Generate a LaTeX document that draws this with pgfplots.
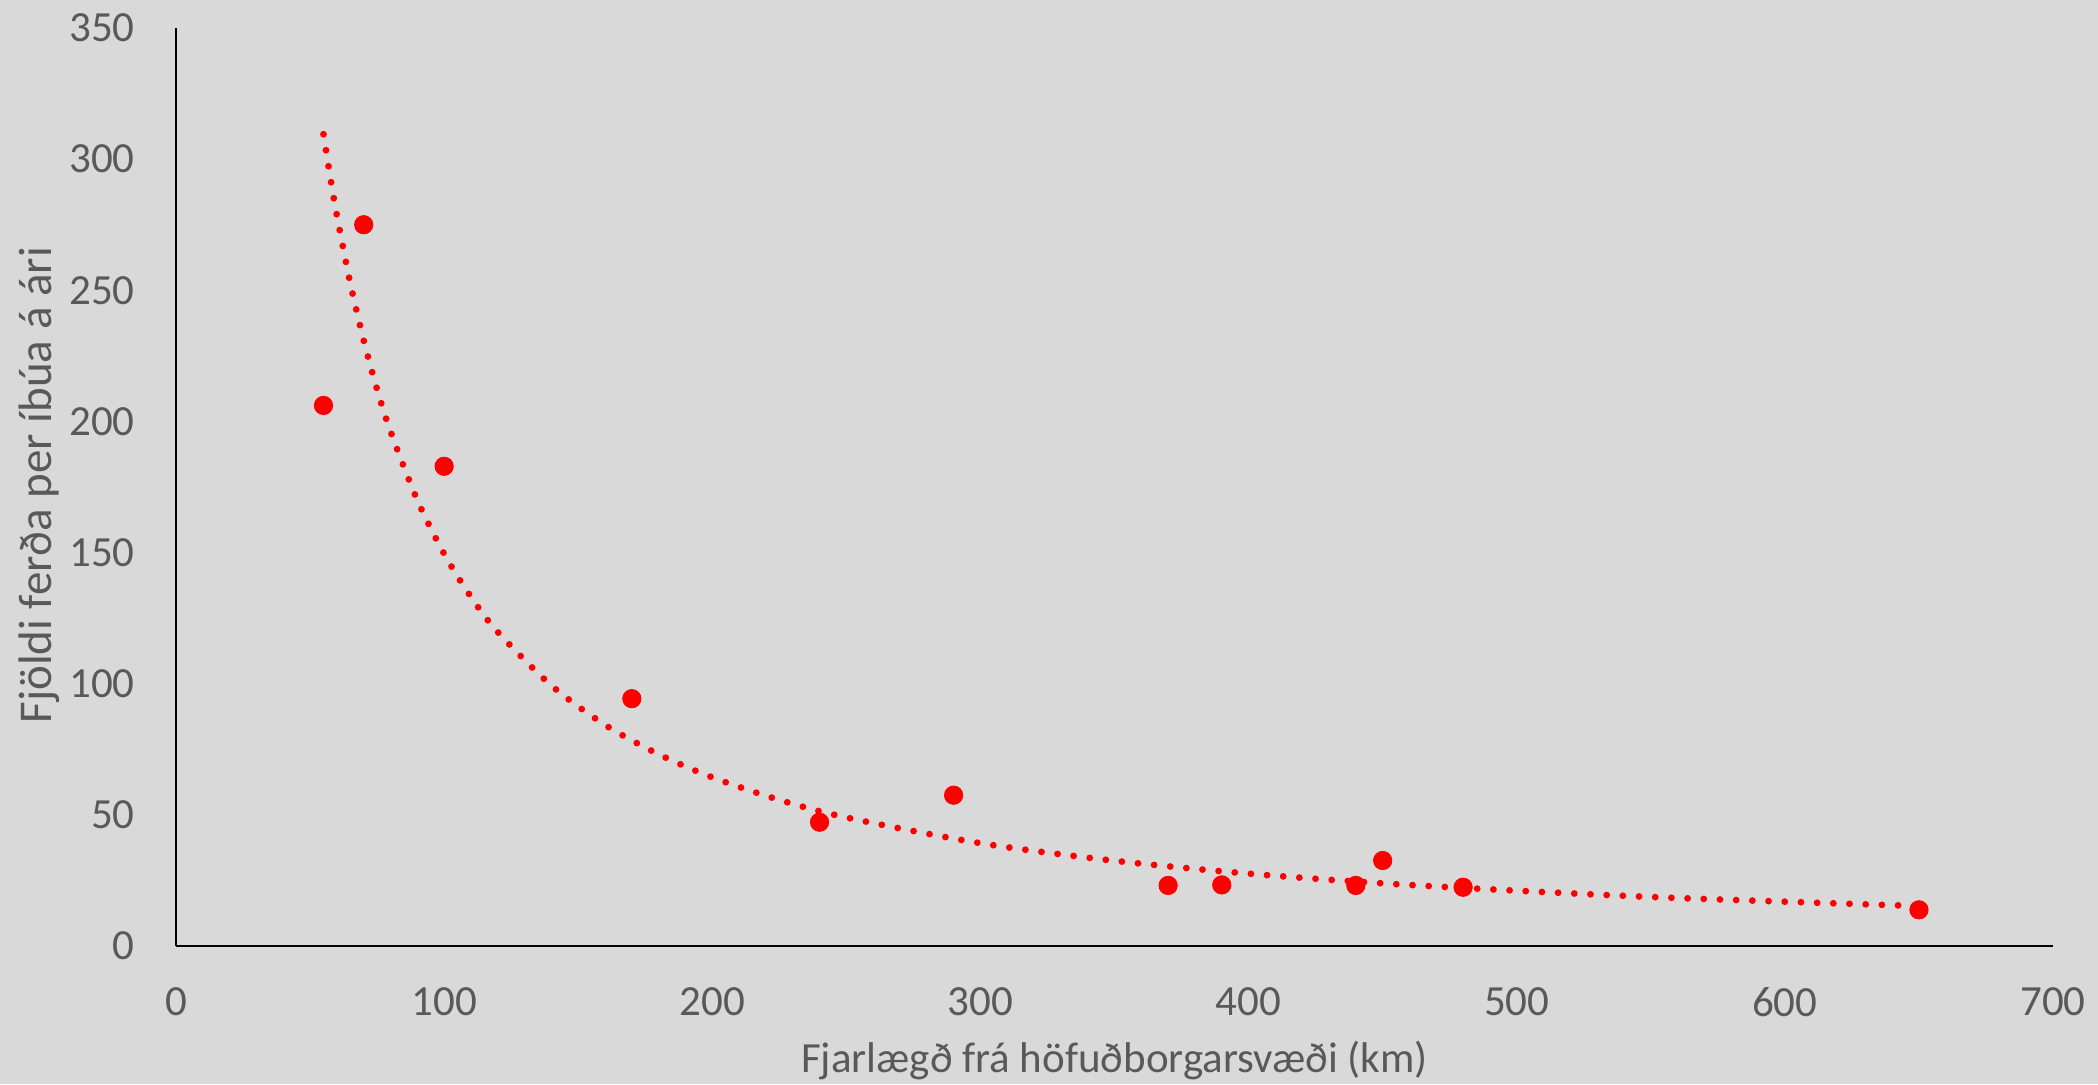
\documentclass[border=0pt]{standalone}
\usepackage{pgfplots}
\pgfplotsset{compat=1.18}
\usepackage{fontspec}
\setmainfont{Carlito}
\definecolor{bg}{HTML}{D9D9D9}
\definecolor{txt}{HTML}{595959}
\definecolor{pt}{HTML}{FF0000}
\begin{document}
\begin{tikzpicture}
\fill[bg] (-88pt,-69pt) rectangle (961pt,473pt);
\useasboundingbox (-88pt,-69pt) rectangle (961pt,473pt);
\begin{axis}[
  at={(0pt,0pt)}, anchor=south west,
  scale only axis, width=938.5pt, height=459pt,
  xmin=0, xmax=700, ymin=0, ymax=350,
  xtick={0,100,...,700}, ytick={0,50,...,350},
  axis x line*=bottom, axis y line*=left,
  axis line style={-, black, line width=1pt},
  major tick length=0pt,
  /pgf/number format/assume math mode=true,
  tick label style={font=\fontsize{21.5}{24}\selectfont, text=txt, inner sep=0pt},
  yticklabel style={anchor=east, xshift=-20.5pt},
  xticklabel style={anchor=north, yshift=-20.5pt},
  xlabel={Fjarlægð frá höfuðborgarsvæði (km)},
  ylabel={Fjöldi ferða per íbúa á ári},
  xlabel style={font=\fontsize{21.5}{24}\selectfont, text=txt, at={(axis description cs:0.5,0)}, anchor=center, yshift=-57pt},
  ylabel style={font=\fontsize{23.5}{26}\selectfont, text=txt, at={(axis description cs:-0.073,0.502)}, anchor=center},
  clip=false,
]
\addplot[pt, line width=3.4pt, line cap=round, dash pattern=on 0pt off 8.1pt, smooth] coordinates {
(55,309.5) (57.5,293.3) (60,278.5) (65,252.7) (70,230.9) (75,212.2) (80,196.2) (90,170.0)
(100,149.5) (110,133.1) (120,119.7) (140,99.3) (160,84.3) (180,73.1) (200,64.3) (225,55.7)
(250,49.0) (300,39.2) (350,32.5) (400,27.6) (450,23.9) (500,21.1) (550,18.7) (600,16.9) (645,15.4)
};
\addplot[only marks, mark=*, mark size=4.6pt, pt, mark options={draw=pt, fill=pt}] coordinates {
(55,206.1) (70,275.0) (100,182.9) (170,94.3) (240,47.2) (290,57.5)
(370,23.1) (390,23.3) (440,23.1) (450,32.6) (480,22.4) (650,13.8)
};
\end{axis}
\end{tikzpicture}
\end{document}
